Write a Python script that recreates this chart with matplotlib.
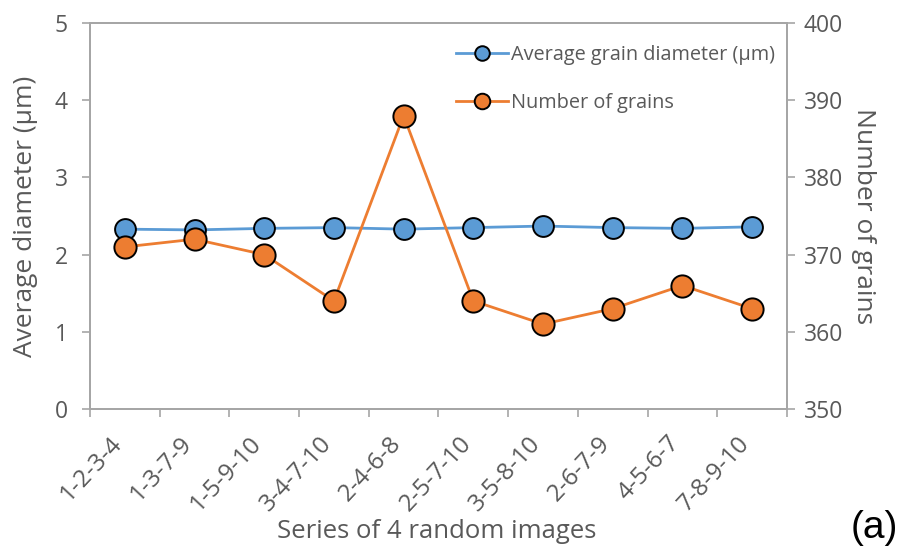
import matplotlib
matplotlib.use("Agg")
import matplotlib.pyplot as plt
import matplotlib.transforms as mtransforms
from matplotlib.ticker import FixedLocator, NullFormatter

# data
series = ["1-2-3-4", "1-3-7-9", "1-5-9-10", "3-4-7-10", "2-4-6-8",
          "2-5-7-10", "3-5-8-10", "2-6-7-9", "4-5-6-7", "7-8-9-10"]
avg_diameter = [2.33, 2.32, 2.34, 2.35, 2.33, 2.35, 2.37, 2.35, 2.34, 2.36]
num_grains = [371, 372, 370, 364, 388, 364, 361, 363, 366, 363]

txt = "#595959"
axc = "#a6a6a6"
blue = "#5B9BD5"
orange = "#ED7D31"
plt.rcParams['font.family'] = ['Open Sans', 'DejaVu Sans']

fig = plt.figure(figsize=(8.99, 5.48), dpi=100)
ax = fig.add_axes([0.1001, 0.2536, 0.7753, 0.7044])
ax2 = ax.twinx()

x = list(range(len(series)))
l1, = ax.plot(x, avg_diameter, color=blue, lw=2, marker="o", ms=15,
              mfc=blue, mec="black", mew=1.4, label="Average grain diameter (µm)", zorder=3)
l2, = ax2.plot(x, num_grains, color=orange, lw=2, marker="o", ms=16,
               mfc=orange, mec="black", mew=1.4, label="Number of grains")

ax.set_xlim(-0.5, len(series) - 0.5)
ax.set_ylim(0, 5)
ax2.set_ylim(350, 400)
ax.set_yticks([0, 1, 2, 3, 4, 5])
ax2.set_yticks([350, 360, 370, 380, 390, 400])

ax.set_xticks(x)
ax.set_xticklabels(series, rotation=47, ha="right", va="center", rotation_mode="anchor",
                   fontsize=17.5, color=txt)
ax.tick_params(axis="x", which="major", length=0, pad=22)
# nudge the slanted labels a bit left so they end under the point
shift = mtransforms.ScaledTranslation(-6 / 100, 0, fig.dpi_scale_trans)
for lab in ax.get_xticklabels():
    lab.set_transform(lab.get_transform() + shift)
ax.xaxis.set_minor_locator(FixedLocator([i - 0.5 for i in range(len(series) + 1)]))
ax.xaxis.set_minor_formatter(NullFormatter())
ax.tick_params(axis="x", which="minor", length=6, width=1.2, color=axc, direction="out")

ax.tick_params(axis="y", length=6, width=1.2, color=axc, labelsize=16.5, labelcolor=txt, pad=10)
ax2.tick_params(axis="y", length=6, width=1.2, color=axc, labelsize=16.5, labelcolor=txt, pad=6)

for a in (ax, ax2):
    for s in a.spines.values():
        s.set_color(axc)
        s.set_linewidth(1.3)

ax.set_ylabel("Average diameter (µm)", fontsize=19, color=txt, labelpad=12)
ax2.set_ylabel("Number of grains", fontsize=19, color=txt, rotation=-90, labelpad=24)
ax.set_xlabel("Series of 4 random images", fontsize=18.5, color=txt)
ax.xaxis.set_label_coords(0.498, -0.285)

leg = ax2.legend(handles=[l1, l2], loc="upper right", frameon=False,
                 fontsize=14.3, labelspacing=1.45, handlelength=2.6, handletextpad=0.15,
                 markerscale=0.7, borderaxespad=0.2, bbox_to_anchor=(1.0, 0.975))
for t in leg.get_texts():
    t.set_color(txt)

fig.text(0.999, 0.036, "(a)", fontsize=28, family="Liberation Sans", color="black",
         ha="right", va="center")

fig.savefig("out.png", dpi=100)
